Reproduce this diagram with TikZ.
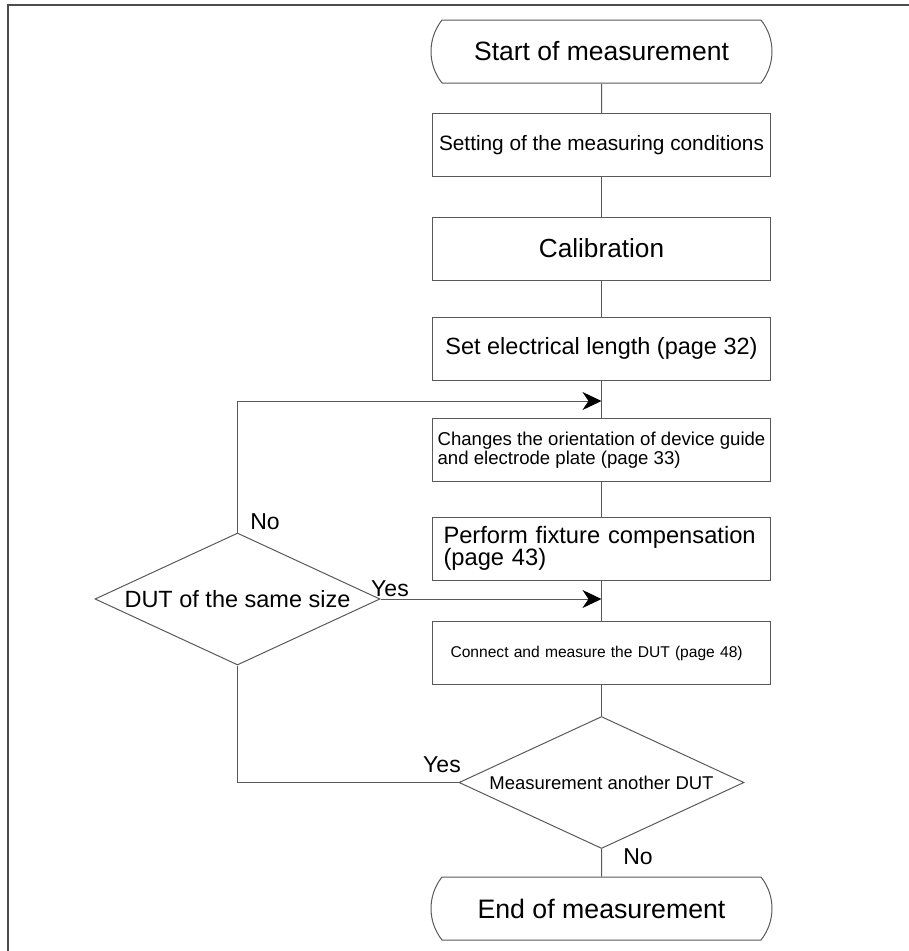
\documentclass[tikz,border=0pt]{standalone}
\usepackage{fontspec}
\setmainfont{Liberation Sans}
\usetikzlibrary{shapes.geometric,shapes.misc,arrows.meta}
\colorlet{linegray}{black!65}
\colorlet{framegray}{black!70}

\begin{document}
\begin{tikzpicture}[x=1pt,y=-1pt]
\useasboundingbox (0,0) rectangle (909,951);
\draw[framegray,line width=2pt] (8,951) -- (8,5) -- (909,5);
\tikzset{TermStyle/.style ={rounded rectangle, rounded rectangle arc length=77, draw=linegray, line width=1pt,
  minimum width=341pt, minimum height=63pt, inner sep=0pt, font=\fontsize{26.5}{30}\selectfont}}
\tikzset{BoxStyle/.style ={rectangle, draw=linegray, line width=1pt, minimum width=338pt, minimum height=63pt,
  inner sep=0pt, align=left}}
\tikzset{TestStyle/.style ={diamond, aspect=2.16, draw=linegray, line width=1pt, minimum width=285pt,
  minimum height=132pt, inner sep=0pt}}
\tikzset{LabelStyle/.style ={inner sep=0pt, font=\fontsize{23}{26}\selectfont}}
\node[TermStyle] (start) at (601.5,51.5) {Start of measurement};
\node[BoxStyle, font=\fontsize{20.8}{24}\selectfont] (cond) at (601.5,145) {Setting of the measuring conditions};
\node[BoxStyle, font=\fontsize{26.2}{30}\selectfont] (calib) at (601.5,248.5) {Calibration};
\node[BoxStyle, font=\fontsize{23.5}{27}\selectfont] (elen) at (601.5,348.5) {Set electrical length (page 32)};
\node[BoxStyle, font=\fontsize{18.6}{19}\selectfont] (orient) at (601.5,450) {Changes the orientation of device guide\\and electrode plate (page 33)};
\node[BoxStyle, text width=316pt, font=\fontsize{23.7}{22.5}\selectfont] (fixt) at (601.5,548.5) {Perform fixture compensation\\(page 43)};
\node[BoxStyle, text width=302pt, font=\fontsize{15.6}{18}\selectfont] (meas) at (601.5,653) {Connect and measure the DUT (page 48)};
\node[TestStyle, font=\fontsize{23.5}{27}\selectfont] (same) at (237.5,599) {DUT of the same size};
\node[TestStyle, font=\fontsize{18.5}{21}\selectfont] (again) at (601.5,782.5) {Measurement another DUT};
\node[TermStyle, font=\fontsize{26.7}{30}\selectfont] (stop) at (601.5,908.5) {End of measurement};
\node[LabelStyle] (no1) at (265,522) {No};
\node[LabelStyle] (yes1) at (390,589) {Yes};
\node[LabelStyle] (yes2) at (442,765) {Yes};
\node[LabelStyle] (no2) at (638,857) {No};
\tikzset{EdgeStyle/.style ={draw=linegray, line width=1pt}}
\tikzset{ArrowStyle/.style ={EdgeStyle, -{Stealth[length=19pt,width=18pt,inset=6pt,black]}}}
\draw[EdgeStyle] (start) -- (cond);
\draw[EdgeStyle] (cond) -- (calib);
\draw[EdgeStyle] (calib) -- (elen);
\draw[EdgeStyle] (elen) -- (orient);
\draw[EdgeStyle] (orient) -- (fixt);
\draw[EdgeStyle] (fixt) -- (meas);
\draw[EdgeStyle] (meas) -- (again);
\draw[EdgeStyle] (again) -- (stop);
\draw[ArrowStyle] (same.north) |- (same.north |- 0,401) -- (elen.south |- 0,401);
\draw[ArrowStyle] (same.east) -- (same.east -| fixt.south);
\draw[EdgeStyle] (again.west) -| (same.south);
\end{tikzpicture}
\end{document}
